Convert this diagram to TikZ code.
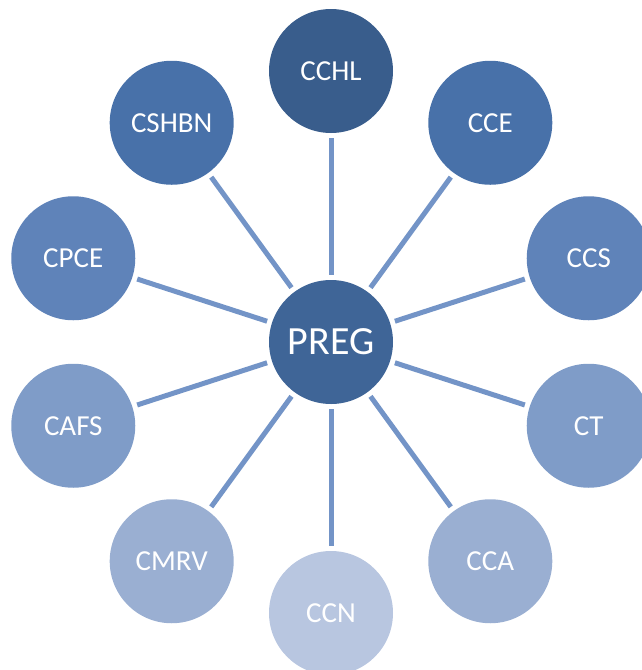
\documentclass[tikz,border=0pt]{standalone}
\usepackage{fontspec}
\setmainfont{Carlito}
\usetikzlibrary{calc}
\definecolor{cPREG}{HTML}{3F6597}
\definecolor{cA}{HTML}{395D8C}
\definecolor{cB}{HTML}{4871A9}
\definecolor{cC}{HTML}{5F83B9}
\definecolor{cD}{HTML}{7F9CC8}
\definecolor{cE}{HTML}{9AAFD2}
\definecolor{cF}{HTML}{B8C6E0}
\definecolor{cLine}{HTML}{7394C7}
\tikzset{
  bubble/.style={circle, minimum size=124pt, inner sep=0pt, text=white, font=\fontsize{29}{32}\selectfont},
  hub/.style={bubble, fill=cPREG, font=\fontsize{40}{44}\selectfont},
  spoke/.style={draw=cLine, line width=5pt, shorten <=5pt, shorten >=5pt}
}
\begin{document}
\begin{tikzpicture}[x=1pt,y=-1pt]
\useasboundingbox (0,0) rectangle (641,670);
\coordinate (o) at (331,342);
\node[hub] (preg) at (o) {PREG};
\node[bubble, fill=cA] (cchl) at ($(o)+(-90:271)$) {CCHL};
\node[bubble, fill=cB] (cce) at ($(o)+(-54:271)$) {CCE};
\node[bubble, fill=cC] (ccs) at ($(o)+(-18:271)$) {CCS};
\node[bubble, fill=cD] (ct) at ($(o)+(18:271)$) {CT};
\node[bubble, fill=cE] (cca) at ($(o)+(54:271)$) {CCA};
\node[bubble, fill=cF] (ccn) at ($(o)+(90:271)$) {CCN};
\node[bubble, fill=cE] (cmrv) at ($(o)+(126:271)$) {CMRV};
\node[bubble, fill=cD] (cafs) at ($(o)+(162:271)$) {CAFS};
\node[bubble, fill=cC] (cpce) at ($(o)+(198:271)$) {CPCE};
\node[bubble, fill=cB] (cshbn) at ($(o)+(234:271)$) {CSHBN};
\foreach \n in {cchl,cce,ccs,ct,cca,ccn,cmrv,cafs,cpce,cshbn}
  \draw[spoke] (preg) -- (\n);
\end{tikzpicture}
\end{document}
